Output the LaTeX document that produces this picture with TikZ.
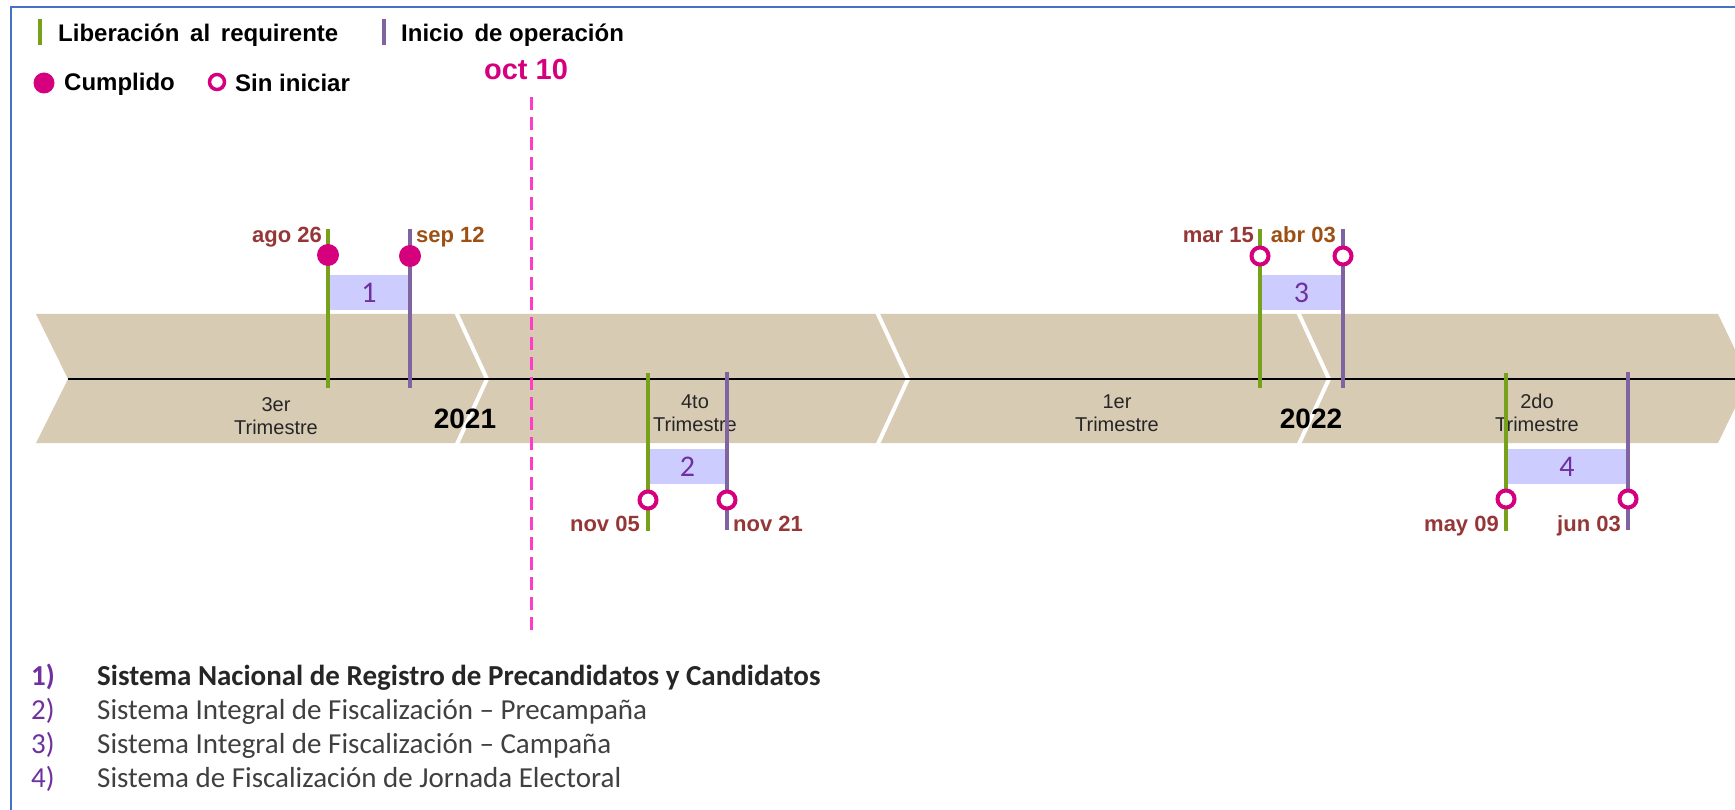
\documentclass[tikz,border=0pt]{standalone}
\usepackage{fontspec}
\setmainfont{Liberation Sans}
\newfontfamily\calib{Carlito}
\definecolor{tanband}{RGB}{216,203,180}
\definecolor{mgreen}{RGB}{119,161,26}
\definecolor{mpurple}{RGB}{128,100,162}
\definecolor{mdot}{RGB}{214,0,127}
\definecolor{boxfill}{RGB}{204,204,255}
\definecolor{numcol}{RGB}{112,48,160}
\definecolor{datered}{RGB}{150,55,55}
\definecolor{dateorange}{RGB}{156,80,20}
\definecolor{dashpink}{RGB}{255,60,200}
\definecolor{framec}{RGB}{68,114,196}
\definecolor{listtext}{RGB}{64,64,64}
\tikzset{
  gline/.style={draw=mgreen, line width=4pt},
  pline/.style={draw=mpurple, line width=4pt},
  donedot/.style={circle, fill=mdot, inner sep=0pt, minimum size=22pt},
  opendot/.style={circle, draw=mdot, line width=4pt, fill=white, inner sep=0pt, minimum size=17pt},
  datelbl/.style={font=\bfseries\fontsize{22}{25}\selectfont, inner sep=0pt},
  trimlbl/.style={font=\fontsize{20}{23}\selectfont, align=center, text=black!85, inner sep=0pt},
  yearlbl/.style={font=\bfseries\fontsize{28}{31}\selectfont, inner sep=0pt},
  numbox/.style={fill=boxfill, inner sep=0pt, minimum height=35pt, text=numcol, font=\calib\fontsize{30}{32}\selectfont},
  legtext/.style={font=\bfseries\fontsize{24}{28}\selectfont, inner sep=0pt, anchor=base west},
  listnum/.style={font=\calib\fontsize{29}{32}\selectfont, text=numcol, inner sep=0pt, anchor=base west},
  listtxt/.style={font=\calib\fontsize{29}{32}\selectfont, text=listtext, inner sep=0pt, anchor=base west},
  sepline/.style={draw=white, line width=4pt},
}
\begin{document}
\begin{tikzpicture}[x=1pt, y=-1pt]
\useasboundingbox (0,0) rectangle (1735,810);
\fill[white] (0,0) rectangle (1735,810);
% frame
\draw[framec, line width=2pt] (11,812) -- (11,7) -- (1740,7);

% legend
\coordinate (lg1) at (40,19); \coordinate (lg2) at (40,45);
\draw[gline] (lg1) -- (lg2);
\node[legtext] (legA) at (58,42) {Liberación\, al\, requirente};
\coordinate (lp1) at (384,19); \coordinate (lp2) at (384,45);
\draw[pline] (lp1) -- (lp2);
\node[legtext] (legB) at (401,42) {Inicio\, de operación};
\node[donedot, minimum size=21pt] (legC) at (44,83) {};
\node[legtext] (legCt) at (64,91) {Cumplido};
\node[opendot, minimum size=15pt, line width=3.5pt] (legD) at (217,82) {};
\node[legtext] (legDt) at (235,92) {Sin iniciar};

% band
\fill[tanband] (36,314) -- (1718,314) -- (1749,379) -- (1718,443) -- (36,443) -- (68,379) -- cycle;
\draw[sepline] (456,312) -- (487,379) -- (456,446);
\draw[sepline] (877,312) -- (908,379) -- (877,446);
\draw[sepline] (1298,312) -- (1329,379) -- (1298,446);
\coordinate (axA) at (68,379); \coordinate (axB) at (1740,379);
\draw[black, line width=2.5pt] (axA) -- (axB);

% oct 10
\node[font=\bfseries\fontsize{29}{32}\selectfont, text=mdot, inner sep=0pt, anchor=base] (oct) at (526,80) {oct 10};
\coordinate (dA) at (531,97); \coordinate (dB) at (531,633);
\draw[dashpink, line width=3pt, dash pattern=on 13pt off 7pt] (dA) -- (dB);

% quarter and year labels
\node[trimlbl] (q3) at (276,416) {3er\\Trimestre};
\node[trimlbl] (q4) at (695,413) {4to\\Trimestre};
\node[trimlbl] (q1) at (1117,413) {1er\\Trimestre};
\node[trimlbl] (q2) at (1537,413) {2do\\Trimestre};
\node[yearlbl, anchor=base] (y21) at (465,428) {2021};
\node[yearlbl, anchor=base] (y22) at (1311,428) {2022};

% boxes
\node[numbox, minimum width=82pt] (b1) at (369,292.5) {1};
\node[numbox, minimum width=79pt] (b2) at (687.5,466.5) {2};
\node[numbox, minimum width=83pt] (b3) at (1301.5,292.5) {3};
\node[numbox, minimum width=122pt] (b4) at (1567,466.5) {4};

% item 1
\coordinate (g1t) at (328,229); \coordinate (g1b) at (328,388);
\coordinate (p1t) at (410,229); \coordinate (p1b) at (410,388);
\draw[gline] (g1t) -- (g1b);
\draw[pline] (p1t) -- (p1b);
\node[donedot] (c1a) at (328,255) {};
\node[donedot] (c1b) at (410,256) {};
\node[datelbl, text=datered, anchor=base east] (d1a) at (322,243) {ago 26};
\node[datelbl, text=dateorange, anchor=base west] (d1b) at (416,243) {sep 12};

% item 2
\coordinate (g2t) at (648,373); \coordinate (g2b) at (648,531);
\coordinate (p2t) at (727,372); \coordinate (p2b) at (727,530);
\draw[gline] (g2t) -- (g2b);
\draw[pline] (p2t) -- (p2b);
\node[opendot] (c2a) at (648,500) {};
\node[opendot] (c2b) at (727,500) {};
\node[datelbl, text=datered, anchor=base east] (d2a) at (640,531) {nov 05};
\node[datelbl, text=datered, anchor=base west] (d2b) at (733,531) {nov 21};

% item 3
\coordinate (g3t) at (1260,229); \coordinate (g3b) at (1260,388);
\coordinate (p3t) at (1343,229); \coordinate (p3b) at (1343,388);
\draw[gline] (g3t) -- (g3b);
\draw[pline] (p3t) -- (p3b);
\node[opendot] (c3a) at (1260,256) {};
\node[opendot] (c3b) at (1343,256) {};
\node[datelbl, text=datered, anchor=base east] (d3a) at (1254,243) {mar 15};
\node[datelbl, text=dateorange, anchor=base east] (d3b) at (1336,243) {abr 03};

% item 4
\coordinate (g4t) at (1506,373); \coordinate (g4b) at (1506,531);
\coordinate (p4t) at (1628,372); \coordinate (p4b) at (1628,530);
\draw[gline] (g4t) -- (g4b);
\draw[pline] (p4t) -- (p4b);
\node[opendot] (c4a) at (1506,499) {};
\node[opendot] (c4b) at (1628,499) {};
\node[datelbl, text=datered, anchor=base east] (d4a) at (1499,531) {may 09};
\node[datelbl, text=datered, anchor=base east] (d4b) at (1621,531) {jun 03};

% list
\node[listnum, font=\calib\bfseries\fontsize{29}{32}\selectfont] (n1) at (31,685) {1)};
\node[listtxt, font=\calib\bfseries\fontsize{29}{32}\selectfont, text=black!85] (t1) at (97,685) {Sistema Nacional de Registro de Precandidatos y Candidatos};
\node[listnum] (n2) at (31,719) {2)};
\node[listtxt] (t2) at (97,719) {Sistema Integral de Fiscalización – Precampaña};
\node[listnum] (n3) at (31,753) {3)};
\node[listtxt] (t3) at (97,753) {Sistema Integral de Fiscalización – Campaña};
\node[listnum] (n4) at (31,787) {4)};
\node[listtxt] (t4) at (97,787) {Sistema de Fiscalización de Jornada Electoral};
\end{tikzpicture}
\end{document}
